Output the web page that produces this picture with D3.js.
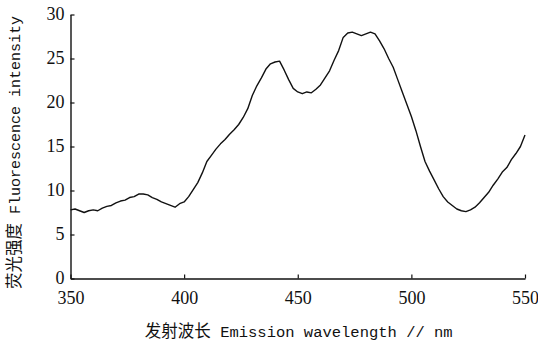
<!DOCTYPE html>
<html>
<head>
<meta charset="utf-8">
<script src="https://cdn.jsdelivr.net/npm/d3@7"></script>
<style>
  html, body { margin: 0; padding: 0; background: #fff; }
  svg { display: block; }
  .tick text { font-family: "Liberation Serif", "Times New Roman", serif; font-size: 18px; fill: #111; }
  .cn { font-family: "Noto Sans CJK SC", sans-serif; }
  .en { font-family: "Liberation Mono", monospace; }
</style>
</head>
<body>
<svg id="chart" width="538" height="343"></svg>
<script>
// Emission spectrum: wavelength (nm) and fluorescence intensity
const wavelengths = [
  350, 352, 354, 356, 358, 360, 362, 364, 366, 368,
  370, 372, 374, 376, 378, 380, 382, 384, 386, 388,
  390, 392, 394, 396, 398, 400, 402, 404, 406, 408,
  410, 412, 414, 416, 418, 420, 422, 424, 426, 428,
  430, 432, 434, 436, 438, 440, 442, 444, 446, 448,
  450, 452, 454, 456, 458, 460, 462, 464, 466, 468,
  470, 472, 474, 476, 478, 480, 482, 484, 486, 488,
  490, 492, 494, 496, 498, 500, 502, 504, 506, 508,
  510, 512, 514, 516, 518, 520, 522, 524, 526, 528,
  530, 532, 534, 536, 538, 540, 542, 544, 546, 548, 550
];
const intensity = [
  7.8, 7.9, 7.7, 7.5, 7.7, 7.8, 7.7, 8.0, 8.2, 8.3,
  8.6, 8.8, 8.9, 9.2, 9.3, 9.6, 9.6, 9.5, 9.2, 9.0,
  8.7, 8.5, 8.3, 8.1, 8.5, 8.7, 9.3, 10.1, 10.9, 12.0,
  13.3, 14.0, 14.7, 15.3, 15.8, 16.4, 16.9, 17.5, 18.3, 19.3,
  20.8, 21.9, 22.8, 23.8, 24.4, 24.6, 24.7, 23.7, 22.6, 21.6,
  21.2, 21.0, 21.2, 21.1, 21.5, 22.0, 22.8, 23.6, 24.8, 25.9,
  27.4, 27.9, 28.0, 27.8, 27.6, 27.8, 28.0, 27.8, 27.0, 26.1,
  25.0, 24.0, 22.6, 21.2, 19.8, 18.4, 16.8, 15.0, 13.3, 12.2,
  11.2, 10.2, 9.3, 8.7, 8.3, 7.9, 7.7, 7.6, 7.8, 8.1,
  8.6, 9.2, 9.8, 10.6, 11.3, 12.1, 12.6, 13.5, 14.2, 15.0, 16.3
];
const xTicks = [350, 400, 450, 500, 550];
const yTicks = [0, 5, 10, 15, 20, 25, 30];

const svg = d3.select("#chart");
const plotLeft = 70.5, plotRight = 525, plotTop = 14.5, plotBottom = 278.5;

const x = d3.scaleLinear().domain([350, 550]).range([plotLeft, plotRight]);
const y = d3.scaleLinear().domain([0, 30]).range([plotBottom, plotTop]);

// Axes with inward ticks
const xAxis = svg.append("g")
  .attr("transform", `translate(0,${plotBottom})`)
  .call(d3.axisBottom(x).tickValues(xTicks).tickSizeInner(-4).tickSizeOuter(0).tickPadding(13));
const yAxis = svg.append("g")
  .attr("transform", `translate(${plotLeft},0)`)
  .call(d3.axisLeft(y).tickValues(yTicks).tickSizeInner(-4).tickSizeOuter(0).tickPadding(6));

[xAxis, yAxis].forEach(g => {
  g.select(".domain").attr("stroke", "#111").attr("stroke-width", 1.4);
  g.selectAll(".tick line").attr("stroke", "#111").attr("stroke-width", 1.2);
});
yAxis.selectAll(".tick text").attr("dy", "0.3em");

// Spectrum line
const line = d3.line()
  .x((d, i) => x(wavelengths[i]))
  .y(d => y(d));
svg.append("path")
  .datum(intensity)
  .attr("d", line)
  .attr("fill", "none")
  .attr("stroke", "#111")
  .attr("stroke-width", 1.4)
  .attr("stroke-linejoin", "round");

// Axis titles
const xt = svg.append("text")
  .attr("x", (plotLeft + plotRight) / 2 + 1)
  .attr("y", 337)
  .attr("text-anchor", "middle")
  .attr("fill", "#111");
xt.append("tspan").attr("class", "cn").attr("font-size", 16.5).text("发射波长");
xt.append("tspan").attr("class", "en").attr("font-size", 15.5).text(" Emission wavelength // nm");

const yt = svg.append("text")
  .attr("transform", `translate(20,${(plotTop + plotBottom) / 2 + 6}) rotate(-90)`)
  .attr("text-anchor", "middle")
  .attr("fill", "#111");
yt.append("tspan").attr("class", "cn").attr("font-size", 16.5).text("荧光强度");
yt.append("tspan").attr("class", "en").attr("font-size", 15).text(" Fluorescence intensity");
</script>
</body>
</html>
